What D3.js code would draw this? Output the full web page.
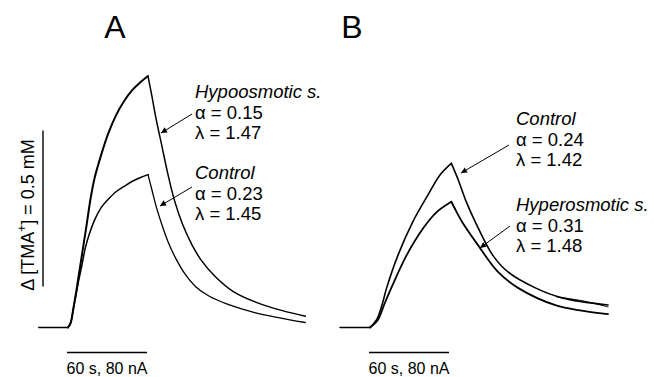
<!DOCTYPE html>
<html>
<head>
<meta charset="utf-8">
<script src="https://cdn.jsdelivr.net/npm/d3@7"></script>
<style>
  body { margin: 0; background: #fff; }
  text { font-family: "Liberation Sans", Arial, sans-serif; fill: #000; }
</style>
</head>
<body>
<div id="chart"></div>
<script>
// time (s, 0 = current on) and delta [TMA+] (mM)
const baseA = [[-22, 0], [0, 0]];
const hypoRiseA = [[0, 0], [2, 0.015], [4, 0.06], [6, 0.11], [8, 0.165], [10, 0.22], [12, 0.275], [14, 0.33], [17, 0.415], [20, 0.48], [25, 0.555], [30, 0.62], [36, 0.68], [42, 0.725], [48, 0.76], [54, 0.785], [60, 0.806]];
const hypoDecayA = [[60, 0.806], [63, 0.74], [66, 0.67], [70, 0.59], [75, 0.49], [80, 0.405], [86, 0.33], [93, 0.265], [100, 0.215], [110, 0.165], [124, 0.115], [148, 0.07], [178, 0.036]];
const ctrlRiseA = [[0, 0], [2, 0.015], [4, 0.06], [6, 0.105], [8, 0.15], [10, 0.19], [13, 0.255], [16, 0.30], [20, 0.345], [25, 0.385], [30, 0.41], [36, 0.435], [42, 0.452], [48, 0.468], [54, 0.48], [60, 0.49]];
const ctrlDecayA = [[60, 0.49], [63, 0.44], [66, 0.39], [70, 0.335], [75, 0.275], [81, 0.22], [88, 0.17], [96, 0.13], [106, 0.1], [120, 0.074], [140, 0.048], [178, 0.016]];

const baseB = [[-22.5, 0], [0, 0]];
const ctrlRiseB = [[0, 0], [5, 0.025], [9, 0.072], [12.5, 0.127], [21, 0.232], [32, 0.338], [43.5, 0.425], [52.5, 0.489], [61, 0.526]];
const ctrlDecayB = [[61, 0.526], [66, 0.475], [72, 0.405], [79, 0.338], [92, 0.232], [103.5, 0.178], [124, 0.127], [144, 0.095], [178.5, 0.072]];
const ctrlTailB = [[140, 0.098], [160, 0.085], [178.5, 0.066]];
const hyperRiseB = [[0, 0], [6, 0.025], [10.5, 0.072], [16, 0.127], [27.5, 0.232], [40, 0.319], [50, 0.37], [61, 0.403]];
const hyperDecayB = [[61, 0.403], [65, 0.37], [69, 0.339], [81, 0.264], [96, 0.178], [111, 0.127], [139, 0.072], [178.5, 0.043]];

const labelsA = [["Hypoosmotic s.", "\u03b1 = 0.15", "\u03bb = 1.47"], ["Control", "\u03b1 = 0.23", "\u03bb = 1.45"]];
const labelsB = [["Control", "\u03b1 = 0.24", "\u03bb = 1.42"], ["Hyperosmotic s.", "\u03b1 = 0.31", "\u03bb = 1.48"]];
const scaleTime = 60;   // s
const scaleConc = 0.5;  // mM

const width = 654, height = 377;

const svg = d3.select("#chart").append("svg")
  .attr("width", width)
  .attr("height", height);

svg.append("defs").append("marker")
  .attr("id", "head")
  .attr("viewBox", "0 0 10 10")
  .attr("refX", 10).attr("refY", 5)
  .attr("markerWidth", 10).attr("markerHeight", 6)
  .attr("markerUnits", "userSpaceOnUse")
  .attr("orient", "auto")
  .append("path")
  .attr("d", "M0,0L10,5L0,10Z")
  .attr("fill", "#000");

const y = d3.scaleLinear().domain([0, scaleConc]).range([327.5, 171.5]);

function panel(x0, traces, labels, lx, ly, arrows, letter, letterX) {
  const x = d3.scaleLinear().domain([0, scaleTime]).range([x0, x0 + 80]);
  const line = d3.line()
    .x(function(d) { return x(d[0]); })
    .y(function(d) { return y(d[1]); })
    .curve(d3.curveCatmullRom.alpha(0.5));

  svg.append("g")
    .selectAll("path")
    .data(traces)
    .enter().append("path")
      .attr("d", function(d) { return line(d.pts); })
      .attr("fill", "none")
      .attr("stroke", "#000")
      .attr("stroke-width", function(d) { return d.w; })
      .attr("stroke-linejoin", "round")
      .attr("stroke-linecap", "round");

  // time / current scale bar
  svg.append("line")
    .attr("x1", x(0) - 1).attr("x2", x(scaleTime) - 1)
    .attr("y1", 352.5).attr("y2", 352.5)
    .attr("stroke", "#000").attr("stroke-width", 1.4);
  svg.append("text")
    .attr("x", x(scaleTime / 2) - 1).attr("y", 374)
    .attr("text-anchor", "middle")
    .style("font-size", "16px")
    .text("60 s, 80 nA");

  svg.append("text")
    .attr("x", letterX).attr("y", 38)
    .attr("text-anchor", "middle")
    .style("font-size", "32px")
    .text(letter);

  labels.forEach(function(group, i) {
    group.forEach(function(s, j) {
      svg.append("text")
        .attr("x", lx).attr("y", ly[i] + j * 20.5)
        .style("font-size", "18.5px")
        .style("font-style", j === 0 ? "italic" : "normal")
        .text(s);
    });
  });

  arrows.forEach(function(a) {
    svg.append("line")
      .attr("x1", a[0]).attr("y1", a[1])
      .attr("x2", a[2]).attr("y2", a[3])
      .attr("stroke", "#000").attr("stroke-width", 1)
      .attr("marker-end", "url(#head)");
  });
}

panel(68, [
  {pts: baseA, w: 1.5},
  {pts: hypoRiseA, w: 2},
  {pts: hypoDecayA, w: 1.5},
  {pts: ctrlRiseA, w: 1.5},
  {pts: ctrlDecayA, w: 1.3}
], labelsA, 195, [98, 179], [[192, 114, 161, 133], [192, 187, 160, 206]], "A", 115);

panel(370, [
  {pts: baseB, w: 1.5},
  {pts: ctrlRiseB, w: 1.6},
  {pts: ctrlDecayB, w: 1.6},
  {pts: ctrlTailB, w: 1},
  {pts: hyperRiseB, w: 1.8},
  {pts: hyperDecayB, w: 1.8}
], labelsB, 516, [125, 211], [[509, 145, 461, 173], [510, 226, 480, 248]], "B", 352);

// concentration scale bar
svg.append("line")
  .attr("x1", 43).attr("x2", 43)
  .attr("y1", y(scaleConc) - 41).attr("y2", y(0) - 41)
  .attr("stroke", "#000").attr("stroke-width", 1.4);

const vlab = svg.append("text")
  .attr("transform", "translate(34,215) rotate(-90)")
  .attr("text-anchor", "middle")
  .style("font-size", "18px");
vlab.append("tspan").text("\u0394 [TMA");
vlab.append("tspan").attr("dy", -8).style("font-size", "12px").text("+");
vlab.append("tspan").attr("dy", 8).text("] = 0.5 mM");
</script>
</body>
</html>
